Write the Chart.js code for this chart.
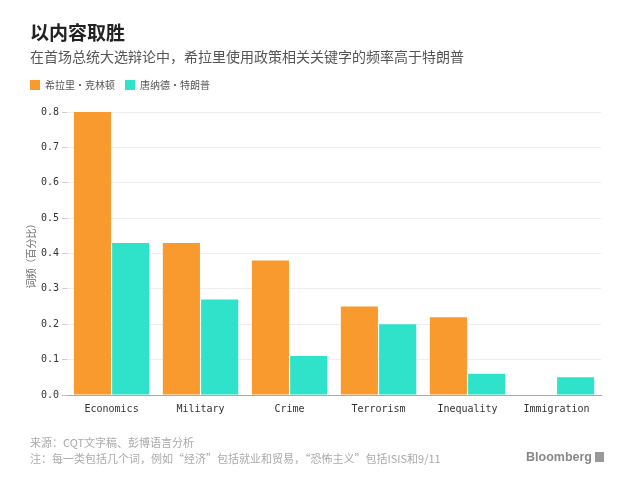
<!DOCTYPE html>
<html>
<head>
<meta charset="utf-8">
<script src="https://cdn.jsdelivr.net/npm/chart.js@4"></script>
<style>
  body { margin: 0; background: #fff; font-family: "Noto Sans CJK SC", "Noto Sans", sans-serif; }
  #wrap { position: relative; width: 630px; height: 490px; overflow: hidden; }
  #chart { position: absolute; left: 0; top: 0; }
  .title { position: absolute; left: 30px; top: 18px; font-size: 19px; font-weight: bold; color: #222; }
  .sub { position: absolute; left: 30px; top: 46px; font-size: 14px; color: #555; }
  .foot { position: absolute; left: 30px; font-size: 11px; color: #aaa; }
  .brand { position: absolute; right: 26px; top: 450px; font-size: 12.5px; font-weight: bold; color: #888; font-family: "Liberation Sans", sans-serif; }
  .brand span { display: inline-block; width: 9px; height: 10px; background: #999; margin-left: 3px; vertical-align: -1px; }
</style>
</head>
<body>
<div id="wrap">
  <canvas id="chart" width="630" height="490"></canvas>
  <div class="title">以内容取胜</div>
  <div class="sub">在首场总统大选辩论中，希拉里使用政策相关关键字的频率高于特朗普</div>
  <div class="foot" style="top:434px">来源：CQT文字稿、彭博语言分析</div>
  <div class="foot" style="top:450px">注：每一类包括几个词，例如“经济”包括就业和贸易，“恐怖主义”包括ISIS和9/11</div>
  <div class="brand">Bloomberg<span></span></div>
</div>
<script>
// 数据
const categories = ['Economics', 'Military', 'Crime', 'Terrorism', 'Inequality', 'Immigration'];
const clinton = [0.80, 0.43, 0.38, 0.25, 0.22, null];
const trump = [0.43, 0.27, 0.11, 0.20, 0.06, 0.05];
const yTicks = [0.0, 0.1, 0.2, 0.3, 0.4, 0.5, 0.6, 0.7, 0.8];

// 图例下方留出更多空间
const legendGap = {
  id: 'legendGap',
  beforeInit(chart) {
    const fit = chart.legend.fit;
    chart.legend.fit = function () {
      fit.bind(chart.legend)();
      this.height += 12;
    };
  }
};

const ctx = document.getElementById('chart').getContext('2d');
const chart = new Chart(ctx, {
  type: 'bar',
  data: {
    labels: categories,
    datasets: [{
      label: '希拉里·克林顿',
      data: clinton,
      backgroundColor: '#f99a2e',
      categoryPercentage: 0.86,
      barPercentage: 0.97
    }, {
      label: '唐纳德·特朗普',
      data: trump,
      backgroundColor: '#2fe3cb',
      categoryPercentage: 0.86,
      barPercentage: 0.97
    }]
  },
  plugins: [legendGap],
  options: {
    responsive: false,
    animation: false,
    layout: { padding: { top: 70, left: 20, right: 29, bottom: 75 } },
    plugins: {
      legend: {
        position: 'top',
        align: 'start',
        labels: {
          boxWidth: 10, boxHeight: 10, padding: 10,
          color: '#555',
          font: { size: 10, family: '"Noto Sans CJK SC", sans-serif' }
        }
      },
      tooltip: { enabled: false }
    },
    scales: {
      x: {
        grid: { display: false, drawOnChartArea: false },
        border: { color: '#aaa' },
        ticks: {
          color: '#333',
          padding: 0,
          font: { size: 10, family: '"DejaVu Sans Mono", monospace' }
        }
      },
      y: {
        min: 0, max: 0.8,
        afterBuildTicks: axis => { axis.ticks = yTicks.map(v => ({ value: v })); },
        grid: { color: '#eeeeee', tickLength: 5, tickColor: '#ccc' },
        border: { display: false },
        ticks: {
          color: '#333',
          padding: 3,
          font: { size: 10, family: '"DejaVu Sans Mono", monospace' },
          callback: v => v.toFixed(1)
        },
        title: {
          display: true,
          text: '词频（百分比）',
          color: '#666',
          padding: { top: 5, bottom: 1 },
          font: { size: 10, family: '"Noto Sans CJK SC", sans-serif' }
        }
      }
    }
  }
});
</script>
</body>
</html>
